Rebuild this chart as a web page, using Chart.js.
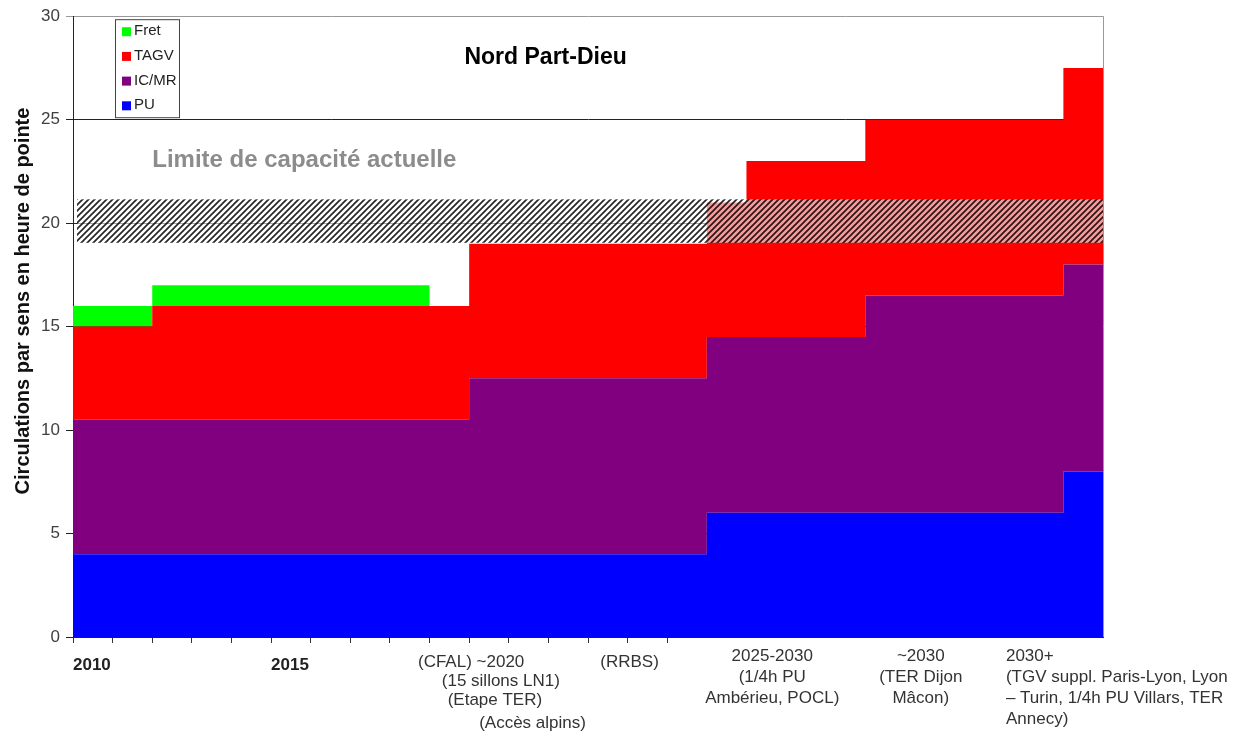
<!DOCTYPE html>
<html>
<head>
<meta charset="utf-8">
<script src="https://cdn.jsdelivr.net/npm/chart.js@4"></script>
<style>
html, body { margin: 0; padding: 0; background: #fff; }
#wrap { width: 1252px; height: 738px; }
</style>
</head>
<body>
<div id="wrap"><canvas id="chart"></canvas></div>
<script>
// Nord Part-Dieu - circulations par sens en heure de pointe (stacked steps)

const years = [2010, 2012, 2019, 2020, 2026, 2027, 2030, 2035, 2036];
const pu    = [4, 4, 4, 4, 6, 6, 6, 8, 8];
const icmr  = [6.5, 6.5, 6.5, 8.5, 8.5, 8.5, 10.5, 10, 10];
const tagv  = [4.5, 5.5, 5.5, 6.5, 6.5, 8.5, 8.5, 9.5, 9.5];
const fret  = [1, 1, 0, 0, 0, 0, 0, 0, 0];

const seriesNames  = ['PU', 'IC/MR', 'TAGV', 'Fret'];
const seriesValues = [pu, icmr, tagv, fret];
const seriesColors = ['#0000ff', '#800080', '#ff0000', '#00ff00'];

const yTicks = [0, 5, 10, 15, 20, 25, 30];
const xTickYears = [2010, 2011, 2012, 2013, 2014, 2015, 2016, 2017, 2018, 2019, 2020, 2021, 2022, 2023, 2024, 2025];
const boldYears = [2010, 2015];
const capacityBand = [19.05, 21.15];
const yTitle = 'Circulations par sens en heure de pointe';

// text under the axis: year anchor, offset below axis, alignment
const xNotes = [
    { at: 2020.05, dy: 25, align: 'center', text: '(CFAL) ~2020' },
    { at: 2020.8,  dy: 44, align: 'center', text: '(15 sillons LN1)' },
    { at: 2020.65, dy: 63, align: 'center', text: '(Etape TER)' },
    { at: 2021.6,  dy: 86, align: 'center', text: '(Accès alpins)' },
    { at: 2024.05, dy: 25, align: 'center', text: '(RRBS)' },
    { at: 2027.65, dy: 19, align: 'center', text: '2025-2030' },
    { at: 2027.65, dy: 40, align: 'center', text: '(1/4h PU' },
    { at: 2027.65, dy: 61, align: 'center', text: 'Ambérieu, POCL)' },
    { at: 2031.4,  dy: 19, align: 'center', text: '~2030' },
    { at: 2031.4,  dy: 40, align: 'center', text: '(TER Dijon' },
    { at: 2031.4,  dy: 61, align: 'center', text: 'Mâcon)' },
    { at: 2033.55, dy: 19, align: 'left', text: '2030+' },
    { at: 2033.55, dy: 40, align: 'left', text: '(TGV suppl. Paris-Lyon, Lyon' },
    { at: 2033.55, dy: 61, align: 'left', text: '– Turin, 1/4h PU Villars, TER' },
    { at: 2033.55, dy: 82, align: 'left', text: 'Annecy)' }
];

const FONT = '"Liberation Sans", Arial, sans-serif';

function hatchPattern(ctx) {
    const c = document.createElement('canvas');
    c.width = 6; c.height = 6;
    const g = c.getContext('2d');
    g.fillStyle = 'rgba(255,255,255,0.6)';
    g.fillRect(0, 0, 6, 6);
    g.strokeStyle = 'rgba(0,0,0,0.85)';
    g.lineWidth = 1.7;
    g.beginPath();
    g.moveTo(0, 6); g.lineTo(6, 0);
    g.moveTo(-3, 3); g.lineTo(3, -3);
    g.moveTo(3, 9); g.lineTo(9, 3);
    g.stroke();
    return ctx.createPattern(c, 'repeat');
}

const frame = {
    id: 'frame',
    beforeDatasetsDraw(chart) {
        const { ctx, chartArea: a } = chart;
        ctx.save();
        ctx.strokeStyle = '#999';
        ctx.lineWidth = 1;
        ctx.beginPath();
        ctx.moveTo(a.right + 0.5, a.top);
        ctx.lineTo(a.right + 0.5, a.bottom);
        ctx.stroke();

        // y axis title, sitting a bit above the axis middle
        ctx.translate(23, 301);
        ctx.rotate(-Math.PI / 2);
        ctx.fillStyle = '#111';
        ctx.font = 'bold 20px ' + FONT;
        ctx.textAlign = 'center';
        ctx.textBaseline = 'middle';
        ctx.fillText(yTitle, 0, 0);
        ctx.restore();
    }
};

const overlay = {
    id: 'overlay',
    afterDatasetsDraw(chart) {
        const { ctx, chartArea: a, scales: { x, y } } = chart;
        ctx.save();

        // capacity band
        const yTop = y.getPixelForValue(capacityBand[1]);
        const yBot = y.getPixelForValue(capacityBand[0]);
        ctx.fillStyle = hatchPattern(ctx);
        ctx.fillRect(a.left + 4, yTop, a.right - a.left - 4, yBot - yTop);

        // texts inside the plot
        ctx.fillStyle = '#000';
        ctx.font = 'bold 23px ' + FONT;
        ctx.textAlign = 'center';
        ctx.textBaseline = 'middle';
        ctx.fillText('Nord Part-Dieu', x.getPixelForValue(2021.93), y.getPixelForValue(28));

        ctx.fillStyle = '#8c8c8c';
        ctx.font = 'bold 24px ' + FONT;
        ctx.textAlign = 'left';
        ctx.fillText('Limite de capacité actuelle', x.getPixelForValue(2012), y.getPixelForValue(23.05));

        // legend box
        const lx = a.left + 42, ly = a.top + 3;
        ctx.fillStyle = '#fff';
        ctx.fillRect(lx, ly, 64, 98);
        ctx.strokeStyle = '#444';
        ctx.lineWidth = 1;
        ctx.strokeRect(lx + 0.5, ly + 0.5, 64, 98);
        ctx.font = '15px ' + FONT;
        ctx.textAlign = 'left';
        ctx.textBaseline = 'middle';
        const ds = chart.data.datasets.slice().reverse();
        ds.forEach((d, i) => {
            const cy = ly + 12 + i * 24.7;
            ctx.fillStyle = d.backgroundColor;
            ctx.fillRect(lx + 7, cy - 4, 9, 9);
            ctx.fillStyle = '#222';
            ctx.fillText(d.label, lx + 19, cy);
        });

        // notes under the axis
        ctx.fillStyle = '#333';
        ctx.font = '17px ' + FONT;
        xNotes.forEach(n => {
            ctx.textAlign = n.align;
            ctx.fillText(n.text, x.getPixelForValue(n.at), a.bottom + n.dy);
        });
        ctx.restore();
    }
};

const ctxEl = document.getElementById('chart');
new Chart(ctxEl.getContext('2d'), {
    type: 'line',
    data: {
        datasets: seriesNames.map((name, i) => ({
            label: name,
            data: years.map((yr, k) => ({ x: yr, y: seriesValues[i][k] })),
            backgroundColor: seriesColors[i],
            borderWidth: 0,
            pointRadius: 0,
            stepped: 'before',
            fill: i === 0 ? 'origin' : '-1'
        }))
    },
    options: {
        responsive: true,
        maintainAspectRatio: false,
        animation: false,
        layout: { padding: { top: 16, right: 149, bottom: 0, left: 0 } },
        plugins: {
            legend: { display: false },
            tooltip: { enabled: false }
        },
        scales: {
            x: {
                type: 'linear',
                min: 2010,
                max: 2036,
                afterBuildTicks: s => { s.ticks = xTickYears.map(v => ({ value: v })); },
                afterFit: s => { s.height = 101; },
                grid: { drawOnChartArea: false, tickLength: 6, color: '#333' },
                border: { color: '#222' },
                ticks: {
                    align: 'start',
                    autoSkip: false,
                    maxRotation: 0,
                    padding: 12,
                    color: '#222',
                    font: { family: FONT, size: 17, weight: 'bold' },
                    callback: v => boldYears.includes(v) ? String(v) : ''
                }
            },
            y: {
                stacked: true,
                min: 0,
                max: 30,
                afterBuildTicks: s => { s.ticks = yTicks.map(v => ({ value: v })); },
                afterFit: s => { s.width = 73; },
                grid: {
                    tickLength: 7,
                    color: c => c.tick && c.tick.value === 30 ? '#999' : '#222'
                },
                border: { color: '#222' },
                ticks: {
                    padding: 6,
                    color: '#404040',
                    font: { family: FONT, size: 17 }
                }
            }
        }
    },
    plugins: [frame, overlay]
});
</script>
</body>
</html>
